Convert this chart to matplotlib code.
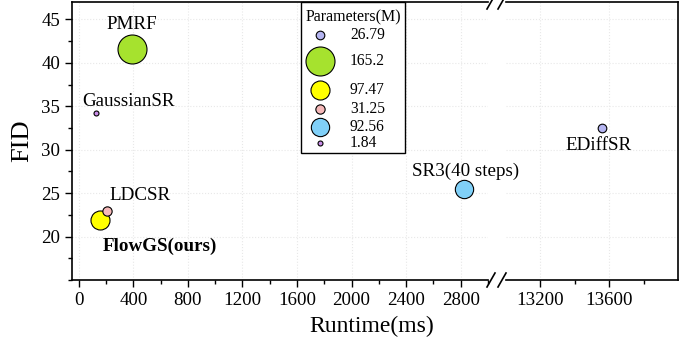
import numpy as np
import matplotlib.pyplot as plt
from matplotlib.ticker import MultipleLocator
from matplotlib.patches import Rectangle

plt.rcParams['font.family'] = ['Liberation Serif', 'DejaVu Serif']

# data
names = ['EDiffSR', 'PMRF', 'FlowGS(ours)', 'LDCSR', 'SR3(40 steps)', 'GaussianSR']
runtime = [13561, 388, 154, 210, 2826, 129]
fid = [32.47, 41.64, 21.85, 23.0, 25.52, 34.27]
params = [26.79, 165.2, 97.47, 31.25, 92.56, 1.84]
param_labels = ['26.79', '165.2', '97.47', '31.25', '92.56', '1.84']
colors = ['#b4b4f0', '#a6e22e', '#ffff00', '#f5b8b8', '#80d0f8', '#c88ce8']

# label positions (text centres, data units)
label_x = [13540, 390, 593, 446, 2836, 366]
label_y = [30.5, 44.4, 18.9, 24.75, 27.56, 35.6]

def msize(p):
    d = (4.7 + 0.147 * p) * 0.72  # marker diameter in points
    return d ** 2

W, H = 691, 341
fig = plt.figure(figsize=(W / 100, H / 100), dpi=100)
ax1 = fig.add_axes([72 / W, 1 - 280 / H, (488 - 72) / W, 278 / H])
ax2 = fig.add_axes([506 / W, 1 - 280 / H, (678 - 506) / W, 278 / H])
ax1.set_zorder(2)
ax1.patch.set_visible(False)

for k, ax in enumerate((ax1, ax2)):
    ax.set_ylim(15, 47)
    ax.grid(True, color='#e8e8e8', linestyle=':', linewidth=0.8)
    ax.set_axisbelow(True)
    for s in ax.spines.values():
        s.set_linewidth(1.2)
    ax.tick_params(direction='out', length=5, width=1, labelsize=13.6)
    ax.tick_params(which='minor', direction='out', length=3, width=1)
    for i in range(len(names)):
        ax.scatter(runtime[i], fid[i], s=msize(params[i]), c=colors[i],
                   edgecolors='black', linewidths=0.8, zorder=3)
        if (runtime[i] > 5000) == (k == 1):
            ax.text(label_x[i], label_y[i], names[i], ha='center', va='center',
                    fontsize=13.7, fontweight='bold' if i == 2 else 'normal',
                    clip_on=False, zorder=5)

ax1.set_xlim(-50, 3000)
ax1.set_xticks(np.arange(0, 2801, 400))
ax1.xaxis.set_minor_locator(MultipleLocator(200))
ax1.set_yticks(np.arange(20, 46, 5))
ax1.yaxis.set_minor_locator(MultipleLocator(2.5))
ax1.spines['right'].set_visible(False)
ax1.set_ylabel('FID', fontsize=19, labelpad=6)

ax2.set_xlim(13000, 14000)
ax2.set_xticks([13200, 13600])
ax2.set_xticks([13400, 13800], minor=True)
ax2.spines['left'].set_visible(False)
ax2.tick_params(axis='y', which='both', left=False, labelleft=False)

fig.text(372 / W, 1 - 326 / H, 'Runtime(ms)', ha='center',
         va='center', fontsize=17)

# break marks
for yy in (2, 280):
    yf = 1 - yy / H
    for xc in (491, 502):
        fig.add_artist(plt.Line2D([(xc - 4) / W, (xc + 4) / W],
                                  [yf - 7 / H, yf + 7 / H],
                                  color='black', linewidth=1.2))

# bubble-size legend box
def fx(px):
    return (px - 72) / (488 - 72)

def fy(py):
    return (280 - py) / 278

ax1.add_patch(Rectangle((fx(301), fy(153)), fx(405) - fx(301), fy(2) - fy(153),
                        transform=ax1.transAxes, fill=True, facecolor='white',
                        edgecolor='black', linewidth=1.0, zorder=6,
                        clip_on=False))
ax1.text(fx(353), fy(17), 'Parameters(M)', transform=ax1.transAxes,
         ha='center', va='center', fontsize=11.5, zorder=7)
row_py = [35, 61, 90, 109, 127, 143]
for p, c, lab, py in zip(params, colors, param_labels, row_py):
    ax1.scatter([fx(320)], [fy(py)], s=msize(p), c=c, edgecolors='black',
                linewidths=0.8, transform=ax1.transAxes, zorder=7,
                clip_on=False)
    ax1.text(fx(350), fy(py), lab, transform=ax1.transAxes, ha='left',
             va='center', fontsize=11.2, zorder=7)

plt.savefig('out.png', dpi=100)
